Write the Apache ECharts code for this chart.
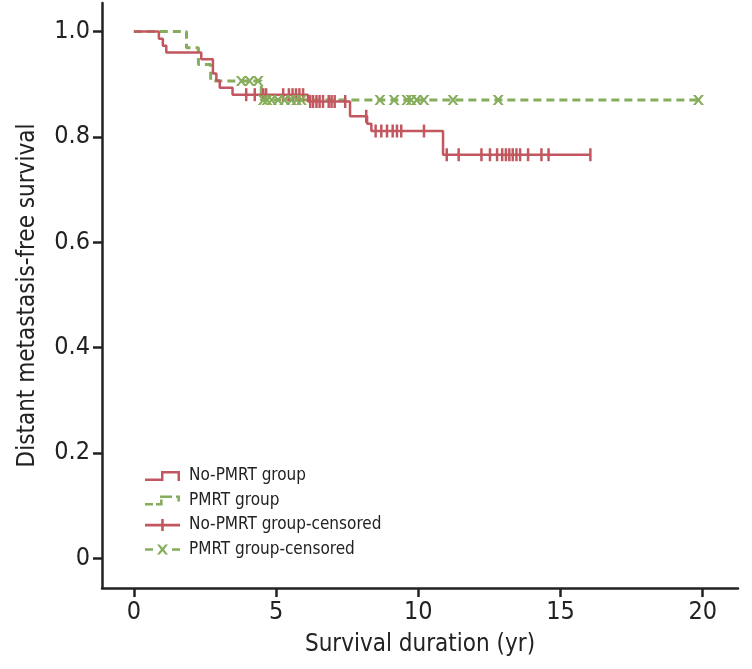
<!DOCTYPE html>
<html>
<head>
<meta charset="utf-8">
<script src="https://cdn.jsdelivr.net/npm/echarts@6/dist/echarts.min.js"></script>
<style>
html,body{margin:0;padding:0;background:#fff;}
#chart{width:752px;height:669px;}
</style>
</head>
<body>
<div id="chart"></div>
<script>
// ---- data ----
var noPmrtTime = [0, 0.88, 1.02, 1.14, 2.37, 2.78, 2.9, 3.02, 3.47, 6.12, 7.6, 8.2, 8.35, 10.87, 16.05];
var noPmrtSurv = [1.0, 0.986, 0.973, 0.96, 0.947, 0.92, 0.907, 0.893, 0.88, 0.867, 0.839, 0.825, 0.811, 0.766, 0.766];
var pmrtTime = [0, 1.85, 2.27, 2.7, 4.48, 19.85];
var pmrtSurv = [1.0, 0.969, 0.9375, 0.906, 0.87, 0.87];
var noPmrtCensor = [3.95, 4.25, 4.55, 4.65, 5.25, 5.45, 5.58, 5.7, 5.82, 5.95, 6.2, 6.3, 6.42, 6.53, 6.65, 6.85, 6.95, 7.06, 7.43, 8.17, 8.5, 8.7, 8.9, 9.1, 9.25, 9.4, 10.2, 11.0, 11.42, 12.22, 12.52, 12.77, 12.95, 13.08, 13.2, 13.32, 13.45, 13.58, 13.86, 14.33, 14.58, 16.05];
var pmrtCensor = [3.78, 4.07, 4.37, 4.55, 4.68, 4.84, 5.07, 5.3, 5.54, 5.72, 5.89, 8.65, 9.15, 9.6, 9.75, 9.94, 10.2, 11.22, 12.81, 19.85];
var xTicks = [0, 5, 10, 15, 20];
var yTicks = [0, 0.2, 0.4, 0.6, 0.8, 1.0];
var seriesNames = ['No-PMRT group', 'PMRT group', 'No-PMRT group-censored', 'PMRT group-censored'];

// ---- helpers ----
function pairs(t, s) { return t.map(function (v, i) { return [v, s[i]]; }); }
function survAt(times, surv, t) {
  var v = surv[0];
  for (var i = 0; i < times.length; i++) { if (times[i] <= t) v = surv[i]; }
  return v;
}
function censorPoints(c, times, surv) { return c.map(function (t) { return [t, survAt(times, surv, t)]; }); }

var RED = '#c2575f';
var GREEN = '#85ad5b';
var INK = '#222222';
var FONT = "'Liberation Sans Narrow', 'DejaVu Sans Condensed', 'Arial Narrow', sans-serif";

var B = 'M0,0 L0,0 Z M35,12 L35,12 Z ';
var iconRedStep = 'path://' + B + 'M0,8.6 L16,8.6 L16,1 L35,1 L35,11 L32.5,11 L32.5,3.5 L18.5,3.5 L18.5,11 L0,11 Z';
var iconGreenStep = 'path://' + B +
  'M0,8.4 L8,8.4 L8,11 L0,11 Z ' +
  'M11,8.4 L15,8.4 L15,5 L17.6,5 L17.6,11 L11,11 Z ' +
  'M15,1 L27,1 L27,3.6 L15,3.6 Z ' +
  'M31,1 L35,1 L35,7 L32.4,7 L32.4,3.6 L31,3.6 Z';
var iconRedCensor = 'path://' + B + 'M0,4.8 L16.2,4.8 L16.2,0 L18.8,0 L18.8,4.8 L35,4.8 L35,7.4 L18.8,7.4 L18.8,12 L16.2,12 L16.2,7.4 L0,7.4 Z';
var iconGreenCensor = 'path://' + B +
  'M0,4.7 L8,4.7 L8,7.3 L0,7.3 Z ' +
  'M27,4.7 L35,4.7 L35,7.3 L27,7.3 Z ' +
  'M12,1 L14.6,1 L17.5,4.3 L20.4,1 L23,1 L19.1,6 L23,11 L20.4,11 L17.5,7.7 L14.6,11 L12,11 L15.9,6 Z';
var symX = 'path://M0,0 L2.4,0 L5,3.4 L7.6,0 L10,0 L6.3,5 L10,10 L7.6,10 L5,6.6 L2.4,10 L0,10 L3.7,5 Z';

var chart = echarts.init(document.getElementById('chart'), null, { renderer: 'canvas' });
chart.setOption({
  animation: false,
  backgroundColor: '#ffffff',
  textStyle: { fontFamily: FONT },
  grid: { left: 102, right: 14, top: 3, bottom: 81, containLabel: false, outerBoundsMode: 'none' },
  legend: {
    orient: 'vertical',
    left: 145,
    top: 467.5,
    padding: 0,
    itemWidth: 35,
    itemHeight: 12,
    itemGap: 7.5,
    itemStyle: { borderWidth: 0 },
    textStyle: { fontFamily: FONT, fontSize: 17, color: INK, lineHeight: 17, padding: [0, 0, 0, 4] },
    selectedMode: false,
    data: [
      { name: seriesNames[0], icon: iconRedStep },
      { name: seriesNames[1], icon: iconGreenStep },
      { name: seriesNames[2], icon: iconRedCensor },
      { name: seriesNames[3], icon: iconGreenCensor }
    ]
  },
  xAxis: {
    type: 'value',
    min: -1.12,
    max: 21.24,
    name: 'Survival duration (yr)',
    nameLocation: 'middle',
    nameGap: 45,
    nameTextStyle: { fontFamily: FONT, fontSize: 24, color: INK },
    axisLine: { show: true, onZero: false, lineStyle: { color: INK, width: 2.5 } },
    axisTick: { show: true, inside: false, length: 9, lineStyle: { color: INK, width: 2.5 }, customValues: xTicks },
    axisLabel: { fontFamily: FONT, fontSize: 25, color: INK, margin: 12, customValues: xTicks },
    splitLine: { show: false }
  },
  yAxis: {
    type: 'value',
    min: -0.0564,
    max: 1.054,
    name: 'Distant metastasis-free survival',
    nameLocation: 'middle',
    nameGap: 62,
    nameTextStyle: { fontFamily: FONT, fontSize: 24, color: INK },
    axisLine: { show: true, onZero: false, lineStyle: { color: INK, width: 2.5 } },
    axisTick: { show: true, inside: false, length: 9, lineStyle: { color: INK, width: 2.5 }, customValues: yTicks },
    axisLabel: {
      fontFamily: FONT, fontSize: 25, color: INK, margin: 12, customValues: yTicks,
      formatter: function (v) { return Math.abs(v) < 1e-9 ? '0' : v.toFixed(1); }
    },
    splitLine: { show: false }
  },
  series: [
    {
      name: seriesNames[1], type: 'line', step: 'end', symbol: 'none', showSymbol: false,
      data: pairs(pmrtTime, pmrtSurv),
      itemStyle: { color: GREEN },
      lineStyle: { color: GREEN, width: 3, type: [8, 5] },
      z: 2
    },
    {
      name: seriesNames[0], type: 'line', step: 'end', symbol: 'none', showSymbol: false,
      data: pairs(noPmrtTime, noPmrtSurv),
      itemStyle: { color: RED },
      lineStyle: { color: RED, width: 2.5 },
      z: 3
    },
    {
      name: seriesNames[2], type: 'scatter', symbol: 'rect', symbolSize: [2.5, 13],
      data: censorPoints(noPmrtCensor, noPmrtTime, noPmrtSurv),
      itemStyle: { color: RED, opacity: 1 },
      z: 4
    },
    {
      name: seriesNames[3], type: 'scatter', symbol: symX, symbolSize: [11, 10],
      data: censorPoints(pmrtCensor, pmrtTime, pmrtSurv),
      itemStyle: { color: GREEN, opacity: 1 },
      z: 5
    }
  ]
});
</script>
</body>
</html>
